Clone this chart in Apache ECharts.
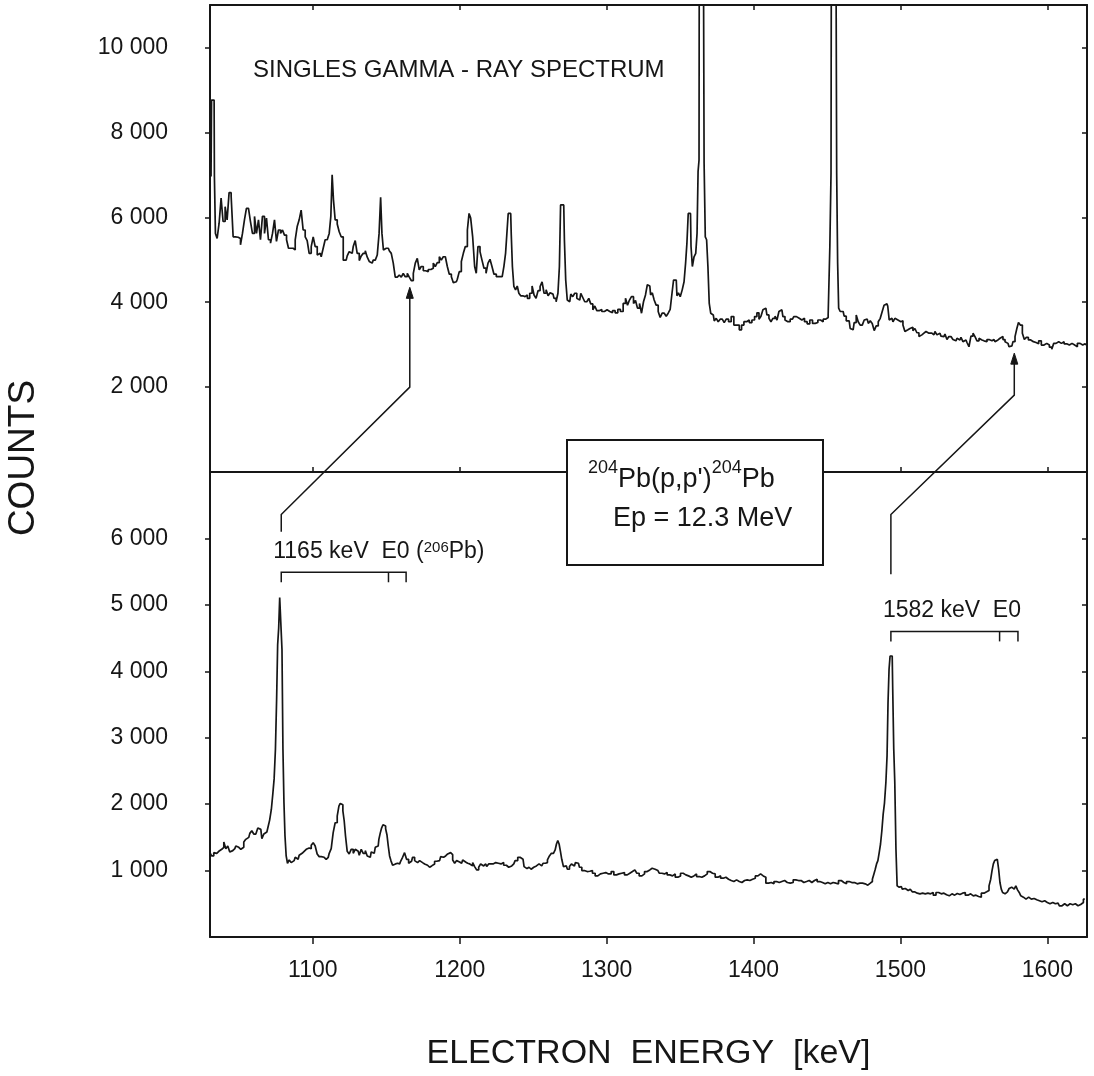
<!DOCTYPE html>
<html>
<head>
<meta charset="utf-8">
<title>204Pb(p,p') singles gamma-ray and electron spectra</title>
<script src="https://cdn.jsdelivr.net/npm/echarts@6/dist/echarts.min.js"></script>
<style>
  html, body { margin: 0; padding: 0; background: #fff; }
  #chart { width: 1094px; height: 1076px; }
</style>
</head>
<body>
<div id="chart"></div>
<script>
// upper panel: singles gamma-ray spectrum, [energy keV, counts]
const singlesSpectrum = [
  [1030.7, 6960], [1031.4, 8760], [1032.8, 8760], [1033.2, 6960], [1034.2, 5620], [1035.5, 5500],
  [1036.9, 5860], [1038.2, 6450], [1039.6, 5900], [1041.0, 6250], [1042.3, 5940], [1043.7, 6580],
  [1045.1, 6490], [1046.4, 5540], [1048.2, 5530], [1050.1, 5500], [1051.4, 5350], [1052.8, 5620],
  [1054.1, 5940], [1055.5, 6210], [1056.9, 6170], [1058.2, 5900], [1059.6, 5620], [1061.0, 6020],
  [1062.3, 5620], [1063.7, 5940], [1065.0, 5470], [1066.4, 6020], [1067.8, 5620], [1069.1, 5980],
  [1070.5, 5470], [1071.9, 5390], [1073.2, 5620], [1074.6, 5940], [1075.9, 5430], [1077.3, 5700],
  [1078.7, 5620], [1080.0, 5700], [1081.4, 5580], [1082.8, 5470], [1084.1, 5270], [1085.9, 5270],
  [1087.3, 5230], [1088.7, 5470], [1090.0, 5780], [1091.4, 5940], [1092.7, 6170], [1094.1, 5700],
  [1095.5, 5540], [1096.8, 5450], [1098.2, 5150], [1099.6, 5310], [1100.9, 5540], [1102.3, 5310],
  [1103.7, 5110], [1105.0, 5150], [1106.4, 5070], [1107.7, 5270], [1109.1, 5470], [1110.5, 5470],
  [1111.8, 5620], [1112.7, 6020], [1113.6, 7000], [1114.5, 6410], [1115.9, 5940], [1117.3, 5840],
  [1118.6, 5660], [1120.0, 5540], [1121.4, 4990], [1122.7, 4990], [1124.1, 5090], [1125.4, 5190],
  [1126.8, 5150], [1128.2, 5310], [1129.5, 5450], [1130.9, 5150], [1132.3, 4980], [1133.6, 5090],
  [1135.0, 5150], [1136.4, 5210], [1137.7, 5060], [1139.1, 4960], [1140.4, 4920], [1141.8, 4990],
  [1143.2, 4980], [1144.5, 5110], [1145.7, 5620], [1146.6, 6470], [1147.5, 5620], [1148.6, 5230],
  [1150.0, 5270], [1151.4, 5270], [1152.7, 5210], [1154.1, 5150], [1155.4, 4920], [1156.8, 4590],
  [1158.2, 4600], [1159.5, 4640], [1160.9, 4590], [1162.2, 4680], [1163.6, 4600], [1165.0, 4680],
  [1166.3, 4590], [1167.7, 4510], [1169.1, 4680], [1170.4, 4920], [1171.8, 5030], [1173.1, 4760],
  [1174.5, 4840], [1175.9, 4740], [1177.7, 4720], [1179.5, 4770], [1181.3, 4800], [1182.7, 4920],
  [1184.0, 4840], [1185.4, 4930], [1186.8, 5070], [1188.1, 4990], [1189.5, 5070], [1190.9, 5110],
  [1192.2, 4840], [1193.6, 4660], [1195.0, 4600], [1196.3, 4460], [1197.7, 4480], [1199.0, 4540],
  [1200.4, 4720], [1201.8, 4960], [1203.1, 5150], [1204.5, 5310], [1205.9, 5700], [1206.8, 6090],
  [1208.1, 5980], [1209.5, 5540], [1210.8, 4840], [1211.7, 4680], [1213.1, 5310], [1214.5, 5190],
  [1215.8, 4990], [1217.2, 4800], [1218.6, 4680], [1219.9, 4920], [1221.3, 5010], [1222.6, 4840],
  [1224.0, 4660], [1225.8, 4600], [1228.3, 4600], [1229.5, 4560], [1230.6, 4840], [1231.8, 5150],
  [1232.7, 5700], [1233.3, 6090], [1234.7, 6090], [1235.4, 5620], [1236.3, 4840], [1237.4, 4370],
  [1238.6, 4290], [1239.7, 4380], [1240.8, 4210], [1242.2, 4150], [1243.6, 4130], [1245.4, 4170],
  [1246.7, 4090], [1248.6, 4210], [1249.9, 4380], [1251.3, 4170], [1252.6, 4090], [1254.0, 4270],
  [1255.4, 4370], [1256.7, 4480], [1258.1, 4210], [1259.5, 4290], [1260.8, 4150], [1262.2, 4220],
  [1263.5, 4190], [1264.9, 4090], [1266.3, 4010], [1267.4, 4210], [1268.3, 4840], [1269.0, 6290],
  [1270.8, 6290], [1271.7, 5470], [1272.6, 4520], [1273.8, 4050], [1274.9, 4010], [1276.3, 4190],
  [1277.6, 4130], [1279.0, 4210], [1280.4, 4090], [1281.7, 4050], [1283.1, 4210], [1284.4, 4110],
  [1285.8, 4010], [1287.2, 4040], [1288.5, 4090], [1289.9, 3960], [1291.3, 3820], [1292.6, 3910],
  [1294.0, 3800], [1295.8, 3830], [1297.6, 3780], [1299.4, 3820], [1301.2, 3780], [1303.1, 3750],
  [1304.9, 3800], [1306.7, 3750], [1308.5, 3830], [1310.3, 3780], [1312.2, 3970], [1313.5, 4090],
  [1314.9, 3930], [1316.2, 4050], [1317.6, 4130], [1319.0, 3970], [1320.3, 4040], [1321.7, 3860],
  [1323.1, 3970], [1324.4, 3740], [1325.8, 4010], [1327.1, 4170], [1328.3, 4410], [1329.4, 4380],
  [1330.5, 4170], [1331.7, 4220], [1333.0, 4050], [1334.4, 3930], [1335.8, 3780], [1337.1, 3640],
  [1338.5, 3740], [1339.9, 3780], [1341.2, 3670], [1342.6, 3740], [1343.9, 3830], [1345.1, 4210],
  [1346.0, 4520], [1347.4, 4520], [1348.3, 4150], [1349.4, 4220], [1350.8, 4130], [1352.1, 4290],
  [1353.3, 4480], [1354.2, 4920], [1355.1, 5390], [1356.0, 6090], [1357.1, 6090], [1357.8, 5310],
  [1358.9, 4840], [1360.1, 5070], [1361.2, 5150], [1361.9, 5620], [1362.6, 7080], [1363.2, 7350],
  [1363.7, 24000], [1366.0, 24000], [1366.7, 7270], [1367.6, 5540], [1368.5, 5470], [1369.4, 4840],
  [1370.3, 3970], [1371.4, 3740], [1372.6, 3700], [1373.9, 3560], [1375.3, 3620], [1376.6, 3540],
  [1378.0, 3600], [1379.4, 3620], [1380.7, 3520], [1382.1, 3600], [1383.9, 3540], [1385.7, 3660],
  [1387.5, 3460], [1389.4, 3460], [1391.2, 3350], [1392.5, 3460], [1394.4, 3540], [1396.2, 3580],
  [1398.0, 3520], [1399.8, 3580], [1401.6, 3660], [1403.0, 3750], [1404.4, 3600], [1405.7, 3670],
  [1407.1, 3820], [1408.4, 3860], [1409.8, 3700], [1411.2, 3620], [1412.5, 3540], [1413.9, 3620],
  [1415.3, 3670], [1416.6, 3580], [1418.0, 3780], [1419.3, 3820], [1420.7, 3660], [1422.1, 3580],
  [1423.4, 3540], [1426.5, 3600], [1428.3, 3660], [1430.2, 3620], [1432.0, 3580], [1433.8, 3620],
  [1435.6, 3540], [1437.4, 3490], [1439.2, 3580], [1441.1, 3500], [1442.9, 3520], [1444.7, 3580],
  [1446.5, 3540], [1448.3, 3600], [1450.1, 3640], [1451.5, 3700], [1452.4, 5310], [1453.1, 7040],
  [1453.8, 24000], [1456.3, 24000], [1456.9, 7040], [1457.6, 4920], [1458.3, 3860], [1459.7, 3780],
  [1461.0, 3780], [1462.4, 3670], [1463.8, 3560], [1465.1, 3560], [1466.5, 3380], [1467.8, 3350],
  [1469.2, 3520], [1470.6, 3700], [1471.9, 3540], [1473.3, 3460], [1474.7, 3440], [1476.0, 3580],
  [1477.4, 3600], [1478.8, 3500], [1480.1, 3560], [1481.5, 3500], [1482.8, 3330], [1484.2, 3440],
  [1485.6, 3540], [1486.9, 3620], [1488.3, 3780], [1489.4, 3930], [1490.8, 3960], [1491.9, 3910],
  [1492.8, 3580], [1494.2, 3620], [1495.6, 3540], [1496.9, 3620], [1498.3, 3580], [1499.6, 3540],
  [1501.0, 3560], [1502.4, 3460], [1503.7, 3310], [1505.1, 3350], [1506.5, 3380], [1507.8, 3410],
  [1509.2, 3330], [1510.5, 3380], [1511.9, 3280], [1513.3, 3190], [1514.6, 3230], [1516.0, 3270],
  [1517.4, 3310], [1518.7, 3270], [1520.1, 3310], [1521.4, 3270], [1522.8, 3230], [1524.2, 3310],
  [1525.5, 3230], [1526.9, 3270], [1528.3, 3200], [1529.6, 3190], [1531.0, 3250], [1532.3, 3120],
  [1533.7, 3190], [1535.1, 3150], [1536.4, 3120], [1537.8, 3090], [1539.2, 3150], [1540.5, 3110],
  [1541.9, 3170], [1543.2, 3070], [1544.6, 3110], [1546.0, 3050], [1547.3, 2950], [1548.7, 3200],
  [1550.1, 3270], [1551.4, 3190], [1552.8, 3090], [1554.2, 3150], [1555.5, 3110], [1556.9, 3090],
  [1558.2, 3070], [1559.6, 3120], [1561.0, 3110], [1562.3, 3090], [1563.7, 3120], [1565.0, 3070],
  [1566.4, 3110], [1567.8, 3150], [1569.1, 3190], [1570.5, 3120], [1571.9, 3070], [1573.2, 3030],
  [1574.6, 2950], [1575.9, 2970], [1577.3, 3070], [1578.7, 3190], [1579.8, 3380], [1580.9, 3520],
  [1582.3, 3460], [1583.7, 3270], [1585.0, 3120], [1586.4, 3170], [1587.8, 3110], [1589.6, 3070],
  [1591.4, 3050], [1593.2, 3020], [1595.0, 3090], [1596.8, 2990], [1598.7, 3030], [1600.5, 2990],
  [1602.3, 2940], [1603.7, 2890], [1605.0, 3030], [1606.8, 3070], [1608.7, 3030], [1610.5, 3070],
  [1612.3, 3020], [1614.1, 2990], [1615.9, 3030], [1617.7, 2990], [1619.5, 2950], [1621.4, 3030],
  [1623.2, 2990], [1625.0, 3020], [1626.4, 2990]
];

// lower panel: conversion-electron spectrum, [energy keV, counts]
const electronSpectrum = [
  [1029.6, 770], [1030.3, 1270], [1031.9, 1220], [1033.2, 1270], [1034.6, 1260], [1036.0, 1290],
  [1037.3, 1320], [1038.7, 1350], [1040.1, 1430], [1041.4, 1330], [1042.8, 1370], [1044.1, 1280],
  [1045.5, 1300], [1046.9, 1330], [1048.2, 1370], [1049.6, 1350], [1051.0, 1320], [1052.3, 1350],
  [1053.7, 1430], [1055.0, 1470], [1056.4, 1500], [1057.8, 1560], [1059.1, 1600], [1060.5, 1550],
  [1061.9, 1520], [1063.2, 1640], [1064.6, 1620], [1066.0, 1480], [1067.3, 1550], [1068.7, 1580],
  [1070.0, 1640], [1071.2, 1760], [1072.3, 1920], [1073.2, 2150], [1074.1, 2380], [1075.0, 2830],
  [1075.7, 3580], [1076.4, 4400], [1077.1, 4650], [1077.8, 5110], [1078.7, 5100], [1079.3, 4330],
  [1080.0, 2830], [1080.7, 2020], [1081.4, 1520], [1082.3, 1220], [1083.2, 1110], [1084.6, 1160],
  [1085.9, 1120], [1087.3, 1150], [1088.7, 1200], [1090.0, 1170], [1091.4, 1230], [1092.7, 1260],
  [1094.1, 1290], [1095.5, 1320], [1096.8, 1340], [1098.2, 1330], [1099.6, 1380], [1100.9, 1420],
  [1102.3, 1370], [1103.6, 1250], [1105.0, 1210], [1106.4, 1190], [1107.7, 1200], [1109.1, 1170],
  [1110.5, 1200], [1111.8, 1260], [1113.2, 1330], [1114.5, 1570], [1115.9, 1720], [1117.3, 1820],
  [1118.2, 1970], [1119.1, 2010], [1120.0, 1990], [1120.9, 1900], [1121.8, 1750], [1122.7, 1520],
  [1124.1, 1290], [1125.4, 1250], [1126.8, 1320], [1128.2, 1260], [1129.5, 1320], [1130.9, 1290],
  [1132.3, 1230], [1133.6, 1320], [1135.0, 1260], [1136.4, 1300], [1137.7, 1220], [1139.1, 1200],
  [1140.4, 1280], [1141.8, 1260], [1143.2, 1350], [1144.5, 1370], [1145.4, 1470], [1146.3, 1560],
  [1147.3, 1640], [1148.2, 1690], [1149.1, 1670], [1150.0, 1630], [1150.9, 1540], [1151.8, 1370],
  [1152.7, 1220], [1153.6, 1150], [1155.0, 1080], [1156.3, 1100], [1157.7, 1110], [1159.1, 1100],
  [1160.4, 1140], [1161.8, 1200], [1163.1, 1270], [1164.5, 1170], [1165.9, 1110], [1167.2, 1140],
  [1168.6, 1200], [1170.0, 1150], [1171.3, 1120], [1172.7, 1150], [1174.0, 1120], [1175.4, 1100],
  [1176.8, 1110], [1178.1, 1080], [1179.5, 1050], [1180.9, 1070], [1182.2, 1100], [1183.6, 1140],
  [1185.0, 1170], [1186.3, 1150], [1187.7, 1210], [1189.0, 1200], [1190.4, 1220], [1191.8, 1250],
  [1193.1, 1270], [1194.5, 1240], [1195.9, 1160], [1197.2, 1110], [1198.6, 1150], [1199.9, 1130],
  [1201.3, 1110], [1202.7, 1160], [1204.0, 1130], [1205.4, 1110], [1206.8, 1100], [1208.1, 1070],
  [1209.5, 1120], [1210.8, 1060], [1212.2, 1010], [1213.6, 1050], [1214.9, 1100], [1216.3, 1070],
  [1217.7, 1100], [1219.0, 1060], [1220.4, 1100], [1221.8, 1100], [1223.6, 1120], [1225.4, 1110],
  [1227.2, 1100], [1229.0, 1120], [1230.8, 1080], [1232.7, 1050], [1234.0, 1020], [1235.4, 1070],
  [1236.8, 1100], [1238.6, 1150], [1240.4, 1200], [1241.7, 1220], [1243.1, 1170], [1244.5, 1060],
  [1245.8, 1030], [1247.2, 1050], [1248.6, 1020], [1250.4, 1050], [1252.2, 1070], [1254.0, 1100],
  [1255.8, 1070], [1257.6, 1110], [1259.0, 1120], [1260.4, 1160], [1261.7, 1220], [1263.1, 1260],
  [1264.5, 1270], [1265.4, 1310], [1266.3, 1400], [1267.2, 1450], [1268.1, 1400], [1269.0, 1290],
  [1269.9, 1170], [1271.3, 1060], [1272.6, 1070], [1274.0, 1020], [1275.4, 1060], [1276.7, 1100],
  [1278.1, 1070], [1279.4, 1120], [1280.8, 1110], [1282.2, 1050], [1284.0, 1000], [1285.8, 985],
  [1287.6, 990], [1289.4, 1000], [1291.3, 960], [1293.1, 920], [1294.9, 950], [1296.7, 960],
  [1298.5, 970], [1300.3, 950], [1302.2, 950], [1304.0, 985], [1305.8, 935], [1307.6, 950],
  [1309.4, 960], [1311.2, 970], [1313.1, 935], [1314.9, 960], [1316.7, 985], [1318.5, 1010],
  [1319.9, 1035], [1321.2, 960], [1323.1, 920], [1324.9, 950], [1326.7, 985], [1328.5, 1010],
  [1330.3, 1035], [1331.7, 1050], [1333.0, 1020], [1334.9, 1000], [1336.7, 960], [1338.5, 950],
  [1340.3, 970], [1342.1, 935], [1343.9, 920], [1345.8, 950], [1347.6, 900], [1349.4, 920],
  [1351.2, 960], [1353.0, 935], [1354.8, 920], [1356.7, 900], [1358.5, 920], [1360.3, 950],
  [1362.1, 910], [1363.9, 900], [1365.7, 920], [1367.6, 950], [1369.4, 985], [1371.2, 960],
  [1373.0, 950], [1374.8, 900], [1376.7, 920], [1378.5, 885], [1380.3, 900], [1382.1, 870],
  [1383.9, 850], [1385.7, 835], [1387.5, 860], [1389.4, 835], [1391.2, 820], [1393.0, 850],
  [1394.8, 860], [1396.6, 850], [1398.4, 870], [1400.3, 885], [1402.1, 920], [1403.9, 950],
  [1405.7, 920], [1407.5, 900], [1409.3, 810], [1411.2, 820], [1413.0, 800], [1414.8, 835],
  [1416.6, 820], [1418.4, 835], [1420.2, 850], [1422.1, 820], [1423.9, 810], [1426.1, 820],
  [1427.9, 860], [1429.7, 850], [1431.5, 850], [1433.3, 820], [1435.2, 835], [1437.0, 850],
  [1438.8, 820], [1440.6, 850], [1442.4, 870], [1444.2, 835], [1446.0, 820], [1447.9, 800],
  [1449.7, 820], [1451.5, 800], [1453.3, 820], [1455.1, 810], [1456.9, 800], [1458.8, 850],
  [1460.6, 820], [1462.4, 800], [1464.2, 835], [1466.0, 820], [1467.8, 820], [1469.7, 800],
  [1471.5, 810], [1473.3, 810], [1475.1, 800], [1476.9, 780], [1478.7, 810], [1480.3, 835],
  [1481.5, 870], [1482.4, 950], [1483.3, 1020], [1484.2, 1100], [1485.1, 1150], [1486.0, 1270],
  [1486.9, 1400], [1487.8, 1600], [1488.7, 1850], [1489.6, 2020], [1490.6, 2330], [1491.2, 2730],
  [1491.9, 3530], [1492.6, 4030], [1493.3, 4230], [1494.4, 4230], [1495.1, 3730], [1495.8, 2830],
  [1496.5, 2330], [1497.4, 1320], [1498.1, 770], [1499.2, 750], [1500.6, 760], [1501.9, 720],
  [1503.3, 730], [1504.6, 700], [1506.0, 720], [1507.4, 700], [1508.7, 680], [1510.5, 660],
  [1512.4, 650], [1514.2, 660], [1516.0, 650], [1517.8, 660], [1519.6, 650], [1521.4, 670],
  [1523.3, 630], [1525.1, 670], [1526.9, 650], [1528.7, 660], [1530.5, 635], [1532.3, 620],
  [1534.2, 650], [1536.0, 630], [1537.8, 655], [1539.6, 640], [1541.4, 660], [1543.2, 670],
  [1545.1, 630], [1546.9, 650], [1548.7, 620], [1550.5, 630], [1552.3, 610], [1554.1, 600],
  [1556.0, 660], [1557.8, 680], [1559.6, 700], [1561.0, 770], [1561.9, 870], [1562.8, 1000],
  [1563.7, 1100], [1564.6, 1150], [1565.5, 1170], [1566.4, 1150], [1567.3, 1020], [1568.2, 820],
  [1569.1, 720], [1570.0, 670], [1571.2, 650], [1572.3, 680], [1573.4, 710], [1574.6, 730],
  [1575.7, 750], [1576.9, 720], [1578.0, 750], [1579.1, 770], [1580.3, 710], [1581.4, 670],
  [1582.5, 620], [1583.7, 600], [1585.5, 570], [1587.3, 600], [1589.1, 570], [1591.0, 580],
  [1592.8, 560], [1594.6, 545], [1596.4, 530], [1598.2, 545], [1600.0, 520], [1601.8, 500],
  [1603.7, 520], [1605.5, 500], [1607.3, 510], [1609.1, 470], [1610.9, 500], [1612.7, 470],
  [1614.6, 500], [1616.4, 485], [1618.2, 500], [1620.0, 470], [1621.8, 490], [1623.6, 520],
  [1625.5, 570]
];

// tick values
const energyTicks = [1100, 1200, 1300, 1400, 1500, 1600];
const singlesTicks = [2000, 4000, 6000, 8000, 10000];
const electronTicks = [1000, 2000, 3000, 4000, 5000, 6000];

// K, L, M conversion lines of the two E0 transitions (keV)
const lines1165 = [1078.5, 1151.5, 1163.5];
const lines1582 = [1493.5, 1567.5, 1580];
// gamma lines the arrows point at (keV)
const gamma1165 = 1166;
const gamma1582 = 1577.5;

const FONT = "'Liberation Sans', Arial, Helvetica, sans-serif";
const INK = '#161616';

const chart = echarts.init(document.getElementById('chart'));

// 10 000 style labels
const spaced = (v) => String(v).replace(/\B(?=(\d{3})+(?!\d))/g, ' ');
const plain = (v) => String(v);

const tickStyle = { color: INK, width: 1.5 };

function energyAxis(gridIndex, position, withLabels) {
  return {
    type: 'value',
    gridIndex: gridIndex,
    position: position,
    min: 1030,
    max: 1627,
    axisLine: { show: true, onZero: false, lineStyle: { color: INK, width: 2 } },
    axisTick: {
      show: true,
      inside: !withLabels,
      length: withLabels ? 7 : 5,
      customValues: energyTicks,
      lineStyle: tickStyle,
    },
    axisLabel: withLabels
      ? { show: true, margin: 22, customValues: energyTicks, formatter: plain, color: INK, fontSize: 23, fontFamily: FONT }
      : { show: false },
    splitLine: { show: false },
  };
}

function countAxis(gridIndex, position, max, ticks) {
  const left = position === 'left';
  return {
    type: 'value',
    gridIndex: gridIndex,
    position: position,
    min: 0,
    max: max,
    axisLine: { show: true, onZero: false, lineStyle: { color: INK, width: 2 } },
    axisTick: {
      show: true,
      inside: !left,
      length: 5,
      customValues: ticks,
      lineStyle: tickStyle,
    },
    axisLabel: left
      ? { show: true, margin: 42, customValues: ticks, formatter: spaced, color: INK, fontSize: 23, fontFamily: FONT }
      : { show: false },
    splitLine: { show: false },
  };
}

const lowerX = energyAxis(1, 'bottom', true);
lowerX.name = 'ELECTRON  ENERGY  [keV]';
lowerX.nameLocation = 'middle';
lowerX.nameGap = 100;
lowerX.nameTextStyle = { color: INK, fontSize: 34, fontFamily: FONT };

const option = {
  animation: false,
  backgroundColor: '#fff',
  title: {
    text: 'SINGLES GAMMA - RAY SPECTRUM',
    left: 253,
    top: 58,
    padding: 0,
    textStyle: { color: INK, fontSize: 24, fontWeight: 'normal', fontFamily: FONT },
  },
  grid: [
    { left: 210, right: 7, top: 5, height: 467, outerBoundsMode: 'none' },
    { left: 210, right: 7, top: 472, height: 465, outerBoundsMode: 'none' },
  ],
  xAxis: [energyAxis(0, 'bottom', false), energyAxis(0, 'top', false), lowerX],
  yAxis: [
    countAxis(0, 'left', 11000, singlesTicks),
    countAxis(0, 'right', 11000, singlesTicks),
    countAxis(1, 'left', 7000, electronTicks),
    countAxis(1, 'right', 7000, electronTicks),
  ],
  series: [
    {
      name: 'singles',
      type: 'line',
      xAxisIndex: 0,
      yAxisIndex: 0,
      data: singlesSpectrum,
      step: 'middle',
      symbol: 'none',
      clip: true,
      lineStyle: { color: INK, width: 1.7 },
    },
    {
      name: 'electrons',
      type: 'line',
      xAxisIndex: 2,
      yAxisIndex: 2,
      data: electronSpectrum,
      step: 'middle',
      symbol: 'none',
      clip: true,
      lineStyle: { color: INK, width: 1.7 },
    },
  ],
};

chart.setOption(option);

// annotations placed through the series' own scales
const upper = (x, y) => chart.convertToPixel({ seriesIndex: 0 }, [x, y]);
const lower = (x, y) => chart.convertToPixel({ seriesIndex: 1 }, [x, y]);

const transitions = [
  {
    lines: lines1165, bar: 5490, tickEnd: 5340, rise: [6100, 6360], gamma: gamma1165, arrow: [2000, 4350],
    label: '{t|1165 keV  E0 (}{s|206}{t|Pb)}',
  },
  {
    lines: lines1582, bar: 4600, tickEnd: 4450, rise: [5460, 6360], gamma: gamma1582, arrow: [1810, 2800],
    label: '{t|1582 keV  E0}',
  },
];

const line = { stroke: INK, lineWidth: 1.5, fill: 'none' };
const graphics = [];

transitions.forEach((t) => {
  const xs = t.lines.map((e) => lower(e, 0)[0]);
  const yBar = lower(t.lines[0], t.bar)[1];
  const yTick = lower(t.lines[0], t.tickEnd)[1];
  // bracket over K, L, M lines
  graphics.push({
    type: 'polyline', z: 20, silent: true,
    shape: { points: [[xs[0], yTick], [xs[0], yBar], [xs[2], yBar], [xs[2], yTick]] },
    style: line,
  });
  graphics.push({
    type: 'line', z: 20, silent: true,
    shape: { x1: xs[1], y1: yBar, x2: xs[1], y2: yTick },
    style: line,
  });
  // connector up to the gamma line in the singles spectrum
  const p0 = lower(t.lines[0], t.rise[0]);
  const p1 = lower(t.lines[0], t.rise[1]);
  const p2 = upper(t.gamma, t.arrow[0]);
  const tip = upper(t.gamma, t.arrow[1]);
  graphics.push({
    type: 'polyline', z: 20, silent: true,
    shape: { points: [p0, p1, p2, [tip[0], tip[1] + 6]] },
    style: line,
  });
  graphics.push({
    type: 'polygon', z: 20, silent: true,
    shape: { points: [[tip[0], tip[1]], [tip[0] - 3.5, tip[1] + 11], [tip[0] + 3.5, tip[1] + 11]] },
    style: { fill: INK, stroke: INK, lineWidth: 1 },
  });
  graphics.push({
    type: 'text', z: 20, silent: true,
    x: xs[0] - 8,
    y: yBar - 21,
    style: {
      text: t.label,
      align: 'left',
      verticalAlign: 'middle',
      fill: INK,
      rich: {
        t: { fontSize: 23, fontFamily: FONT, fill: INK },
        s: { fontSize: 15, fontFamily: FONT, fill: INK, padding: [0, 0, 6, 0] },
      },
    },
  });
});

// reaction box
graphics.push({
  type: 'rect', z: 30, silent: true,
  shape: { x: 567, y: 440, width: 256, height: 125 },
  style: { fill: '#fff', stroke: INK, lineWidth: 2 },
});
graphics.push({
  type: 'text', z: 31, silent: true,
  x: 588, y: 480,
  style: {
    text: "{s|204}{b|Pb(p,p')}{s|204}{b|Pb}",
    align: 'left',
    verticalAlign: 'middle',
    fill: INK,
    rich: {
      b: { fontSize: 27, fontFamily: FONT, fill: INK },
      s: { fontSize: 18, fontFamily: FONT, fill: INK, padding: [0, 0, 24, 0] },
    },
  },
});
graphics.push({
  type: 'text', z: 31, silent: true,
  x: 613, y: 519,
  style: { text: 'Ep = 12.3 MeV', fontSize: 27, fontFamily: FONT, fill: INK, align: 'left', verticalAlign: 'middle' },
});

// vertical axis title shared by both panels
graphics.push({
  type: 'text', z: 20, silent: true,
  x: 24, y: 458,
  rotation: Math.PI / 2,
  style: { text: 'COUNTS', fontSize: 37, fontFamily: FONT, fill: INK, align: 'center', verticalAlign: 'middle' },
});

chart.setOption({ graphic: graphics });
</script>
</body>
</html>
